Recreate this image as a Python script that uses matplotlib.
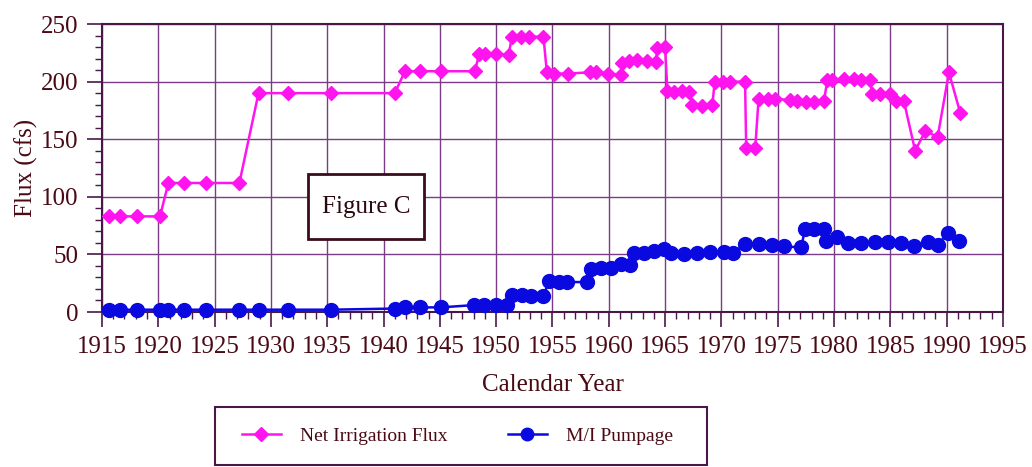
import matplotlib
matplotlib.use('Agg')
import matplotlib.pyplot as plt
from matplotlib.lines import Line2D
from matplotlib.patches import Rectangle
from matplotlib.ticker import MultipleLocator

# Net irrigation flux (cfs) by calendar year
irr_years = [1915.65, 1916.6, 1918.1, 1920.15, 1920.9, 1922.3, 1924.2, 1927.2,
             1928.9, 1931.5, 1935.3, 1941.0, 1941.9, 1943.2, 1945.1, 1948.1,
             1948.5, 1949.0, 1950.0, 1951.1, 1951.4, 1952.2, 1952.9, 1954.2,
             1954.5, 1955.1, 1956.4, 1958.3, 1958.9, 1959.9, 1961.1, 1961.2,
             1961.8, 1962.5, 1963.4, 1964.2, 1964.3, 1965.0, 1965.2, 1965.8,
             1966.5, 1967.1, 1967.4, 1968.3, 1969.2, 1969.4, 1970.1, 1970.8,
             1972.1, 1972.2, 1973.0, 1973.3, 1974.1, 1974.8, 1976.1, 1976.7,
             1977.5, 1978.2, 1979.1, 1979.4, 1979.8, 1980.9, 1981.8, 1982.4,
             1983.2, 1983.4, 1984.1, 1985.0, 1985.5, 1986.2, 1987.2, 1988.1,
             1989.2, 1990.2, 1991.2]
irr_flux = [83, 83, 83, 83, 112, 112, 112, 112,
            190, 190, 190, 190, 209, 209, 209, 209,
            224, 224, 224, 223, 239, 239, 239, 239,
            208, 207, 207, 208, 208, 207, 206, 216,
            218, 219, 218, 217, 229, 230, 192, 191,
            192, 191, 180, 179, 180, 200, 200, 200,
            200, 142, 142, 185, 185, 185, 184, 183,
            182, 182, 183, 201, 201, 202, 202, 201,
            201, 189, 189, 189, 183, 183, 140, 157,
            152, 208, 173]

# M/I pumpage (cfs) by calendar year
mi_years = [1915.65, 1916.6, 1918.1, 1920.15, 1920.9, 1922.3, 1924.2, 1927.2,
            1928.9, 1931.5, 1935.3, 1941.0, 1941.9, 1943.2, 1945.1, 1948.0,
            1948.9, 1950.0, 1951.0, 1951.4, 1952.3, 1953.1, 1954.2, 1954.7,
            1955.6, 1956.3, 1958.1, 1958.4, 1959.3, 1960.2, 1961.1, 1961.9,
            1962.2, 1963.1, 1964.0, 1964.9, 1965.5, 1966.7, 1967.8, 1969.0,
            1970.2, 1971.0, 1972.1, 1973.3, 1974.5, 1975.6, 1977.1, 1977.4,
            1978.2, 1979.1, 1979.3, 1980.3, 1981.2, 1982.4, 1983.6, 1984.8,
            1985.9, 1987.1, 1988.3, 1989.2, 1990.1, 1991.1]
mi_flux = [2, 2, 2, 2, 2, 2, 2, 2,
           2, 2, 2, 3, 4, 4, 4, 6,
           6, 6, 6, 15, 15, 14, 14, 27,
           26, 26, 26, 37, 38, 38, 42, 41,
           51, 51, 53, 55, 51, 50, 51, 52,
           52, 51, 59, 59, 58, 57, 56, 72,
           72, 72, 62, 65, 60, 60, 61, 61,
           60, 57, 61, 58, 69, 62]

IRR_COLOR = '#ff14f0'
MI_COLOR = '#0a0ae0'
TEXT_COLOR = '#4a0a14'
AXIS_COLOR = '#4a1848'
GRID_COLOR = '#7a3c86'

plt.rcParams['font.family'] = ['Liberation Serif', 'DejaVu Serif']
plt.rcParams['font.size'] = 18

fig = plt.figure(figsize=(10.32, 4.67), dpi=100)
ax = fig.add_axes([0.0988, 0.3319, 0.8731, 0.6167])

ax.plot(irr_years, irr_flux, color=IRR_COLOR, lw=1.8, marker='D', ms=7.5,
        mec=IRR_COLOR, clip_on=False, zorder=4)
ax.plot(mi_years, mi_flux, color=MI_COLOR, lw=1.8, marker='o', ms=10,
        mec=MI_COLOR, clip_on=False, zorder=5)

ax.set_xlim(1915, 1995)
ax.set_ylim(0, 250)
ax.xaxis.set_major_locator(MultipleLocator(5))
ax.xaxis.set_minor_locator(MultipleLocator(1))
ax.yaxis.set_major_locator(MultipleLocator(50))
ax.yaxis.set_minor_locator(MultipleLocator(10))
ax.tick_params(which='major', direction='out', length=11, width=1.2,
               color=AXIS_COLOR, labelcolor=TEXT_COLOR, pad=6)
ax.tick_params(which='minor', direction='out', length=5, width=1,
               color=AXIS_COLOR)
ax.tick_params(top=False, right=False, which='both')
for spine in ax.spines.values():
    spine.set_color(AXIS_COLOR)
    spine.set_linewidth(1.5)
ax.grid(which='major', color=GRID_COLOR, lw=1)
ax.set_axisbelow(True)

ax.set_xlabel('Calendar Year', color=TEXT_COLOR, labelpad=12)
ax.set_ylabel('Flux (cfs)', color=TEXT_COLOR, labelpad=2)

# label box in the middle of the plot
ax.add_patch(Rectangle((1933.3, 63.1), 10.3, 56.3, facecolor='white',
                       edgecolor='#3a0c1c', lw=2, zorder=6))
ax.text(1938.45, 91, 'Figure C', ha='center', va='center',
        color='#2a0810', fontsize=18, zorder=7)

# legend with its own frame below the axes
fig.patches.append(Rectangle((0.2083, 0.0043), 0.4767, 0.1242,
                             transform=fig.transFigure, fill=False,
                             edgecolor=AXIS_COLOR, lw=1.5))
handles = [
    Line2D([], [], color=IRR_COLOR, lw=1.8, marker='D', ms=7.5),
    Line2D([], [], color=MI_COLOR, lw=1.8, marker='o', ms=9),
]
fig.legend(handles, ['Net Irrigation Flux', 'M/I Pumpage'], ncol=2,
           frameon=False, loc='center', bbox_to_anchor=(0.4433, 0.066),
           fontsize=14, handlelength=2.0, handletextpad=1.0,
           columnspacing=3.1, labelcolor=TEXT_COLOR)

fig.savefig('out.png', dpi=100)
